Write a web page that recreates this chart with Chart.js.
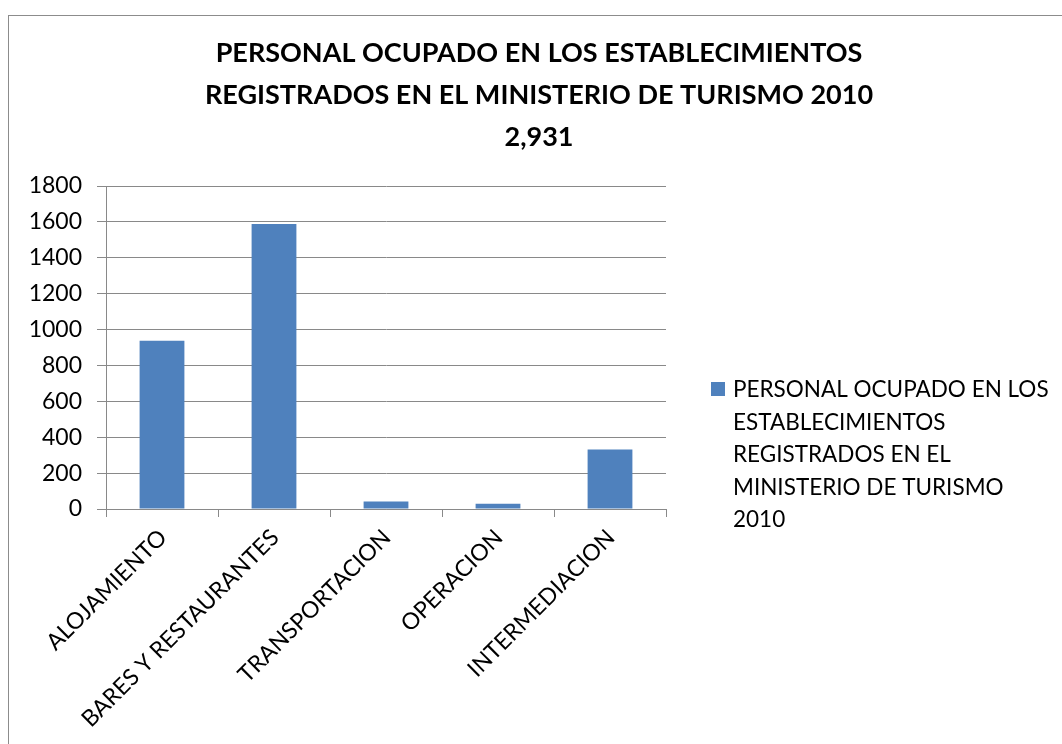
<!DOCTYPE html>
<html>
<head>
<meta charset="utf-8">
<script src="https://cdn.jsdelivr.net/npm/chart.js@4/dist/chart.umd.min.js"></script>
<style>
  html, body { margin: 0; padding: 0; background: #fff; overflow: hidden; }
  #frame {
    position: absolute; left: 8px; top: 15px; width: 1070px; height: 740px;
    border: 1px solid #8c8c8c; box-sizing: border-box;
  }
  #chart { position: absolute; left: 8px; top: 15px; }
</style>
</head>
<body>
<div id="frame"></div>
<canvas id="chart" width="1062" height="729"></canvas>
<script>
// datos del gráfico
const categories = ['ALOJAMIENTO', 'BARES Y RESTAURANTES', 'TRANSPORTACION', 'OPERACION', 'INTERMEDIACION'];
const personalOcupado = [937, 1588, 42, 29, 331];
const titleLines = ['PERSONAL OCUPADO EN LOS ESTABLECIMIENTOS', 'REGISTRADOS EN EL MINISTERIO DE TURISMO 2010', '2,931'];
const seriesLabelLines = ['PERSONAL OCUPADO EN LOS', 'ESTABLECIMIENTOS', 'REGISTRADOS EN EL', 'MINISTERIO DE TURISMO', '2010'];
const yMin = 0, yMax = 1800, yStep = 200;

const FONT = 'Lato, "Open Sans", sans-serif';
const GRID = '#898989';

// caja de leyenda a la derecha (texto en varias líneas), como caja del layout
const sideLegend = {
  id: 'sideLegend',
  beforeInit(chart) {
    Chart.layouts.addBox(chart, {
      position: 'right',
      weight: 0,
      fullSize: false,
      options: {},
      update(maxWidth, maxHeight) {
        this.width = 404;
        this.height = maxHeight;
      },
      isHorizontal() { return false; },
      getPadding() { return { top: 0, left: 0, right: 0, bottom: 0 }; },
      draw() {
        const ctx = chart.ctx;
        const ds = chart.data.datasets[0];
        const x = this.left + 45;
        const y = 375;
        ctx.save();
        ctx.fillStyle = ds.backgroundColor;
        ctx.fillRect(x, y - 8, 14, 14);
        ctx.fillStyle = '#000';
        ctx.font = '22.5px ' + FONT;
        ctx.textBaseline = 'middle';
        ctx.textAlign = 'left';
        seriesLabelLines.forEach((line, i) => {
          ctx.fillText(line, x + 22, y + i * 32.5);
        });
        ctx.restore();
      }
    });
  }
};

new Chart(document.getElementById('chart'), {
  type: 'bar',
  data: {
    labels: categories,
    datasets: [{
      label: seriesLabelLines.join(' '),
      data: personalOcupado,
      backgroundColor: '#4f81bd',
      borderWidth: 0,
      categoryPercentage: 1.0,
      barPercentage: 0.4
    }]
  },
  options: {
    responsive: false,
    devicePixelRatio: 1,
    animation: false,
    layout: { padding: 0 },
    plugins: {
      legend: { display: false },
      tooltip: { enabled: false },
      title: {
        display: true,
        text: titleLines,
        color: '#000',
        font: { family: FONT, size: 27, weight: 'bold', lineHeight: 42 / 27 },
        padding: { top: 17, bottom: 28 }
      }
    },
    scales: {
      x: {
        afterFit: s => { s.height = 235; },
        grid: {
          offset: true,
          drawOnChartArea: false,
          drawTicks: true,
          tickLength: 8,
          color: GRID
        },
        border: { color: GRID, width: 1 },
        ticks: {
          color: '#000',
          font: { family: FONT, size: 23 },
          minRotation: 45,
          maxRotation: 45,
          autoSkip: false,
          labelOffset: 1,
          padding: 7
        }
      },
      y: {
        min: yMin,
        max: yMax,
        afterFit: s => { s.width = 98; },
        grid: { color: GRID, lineWidth: 1, tickLength: 9 },
        border: { color: GRID, width: 1 },
        ticks: {
          stepSize: yStep,
          color: '#000',
          font: { family: FONT, size: 23 },
          padding: 15,
          callback: v => String(v)
        }
      }
    }
  },
  plugins: [sideLegend]
});
</script>
</body>
</html>
